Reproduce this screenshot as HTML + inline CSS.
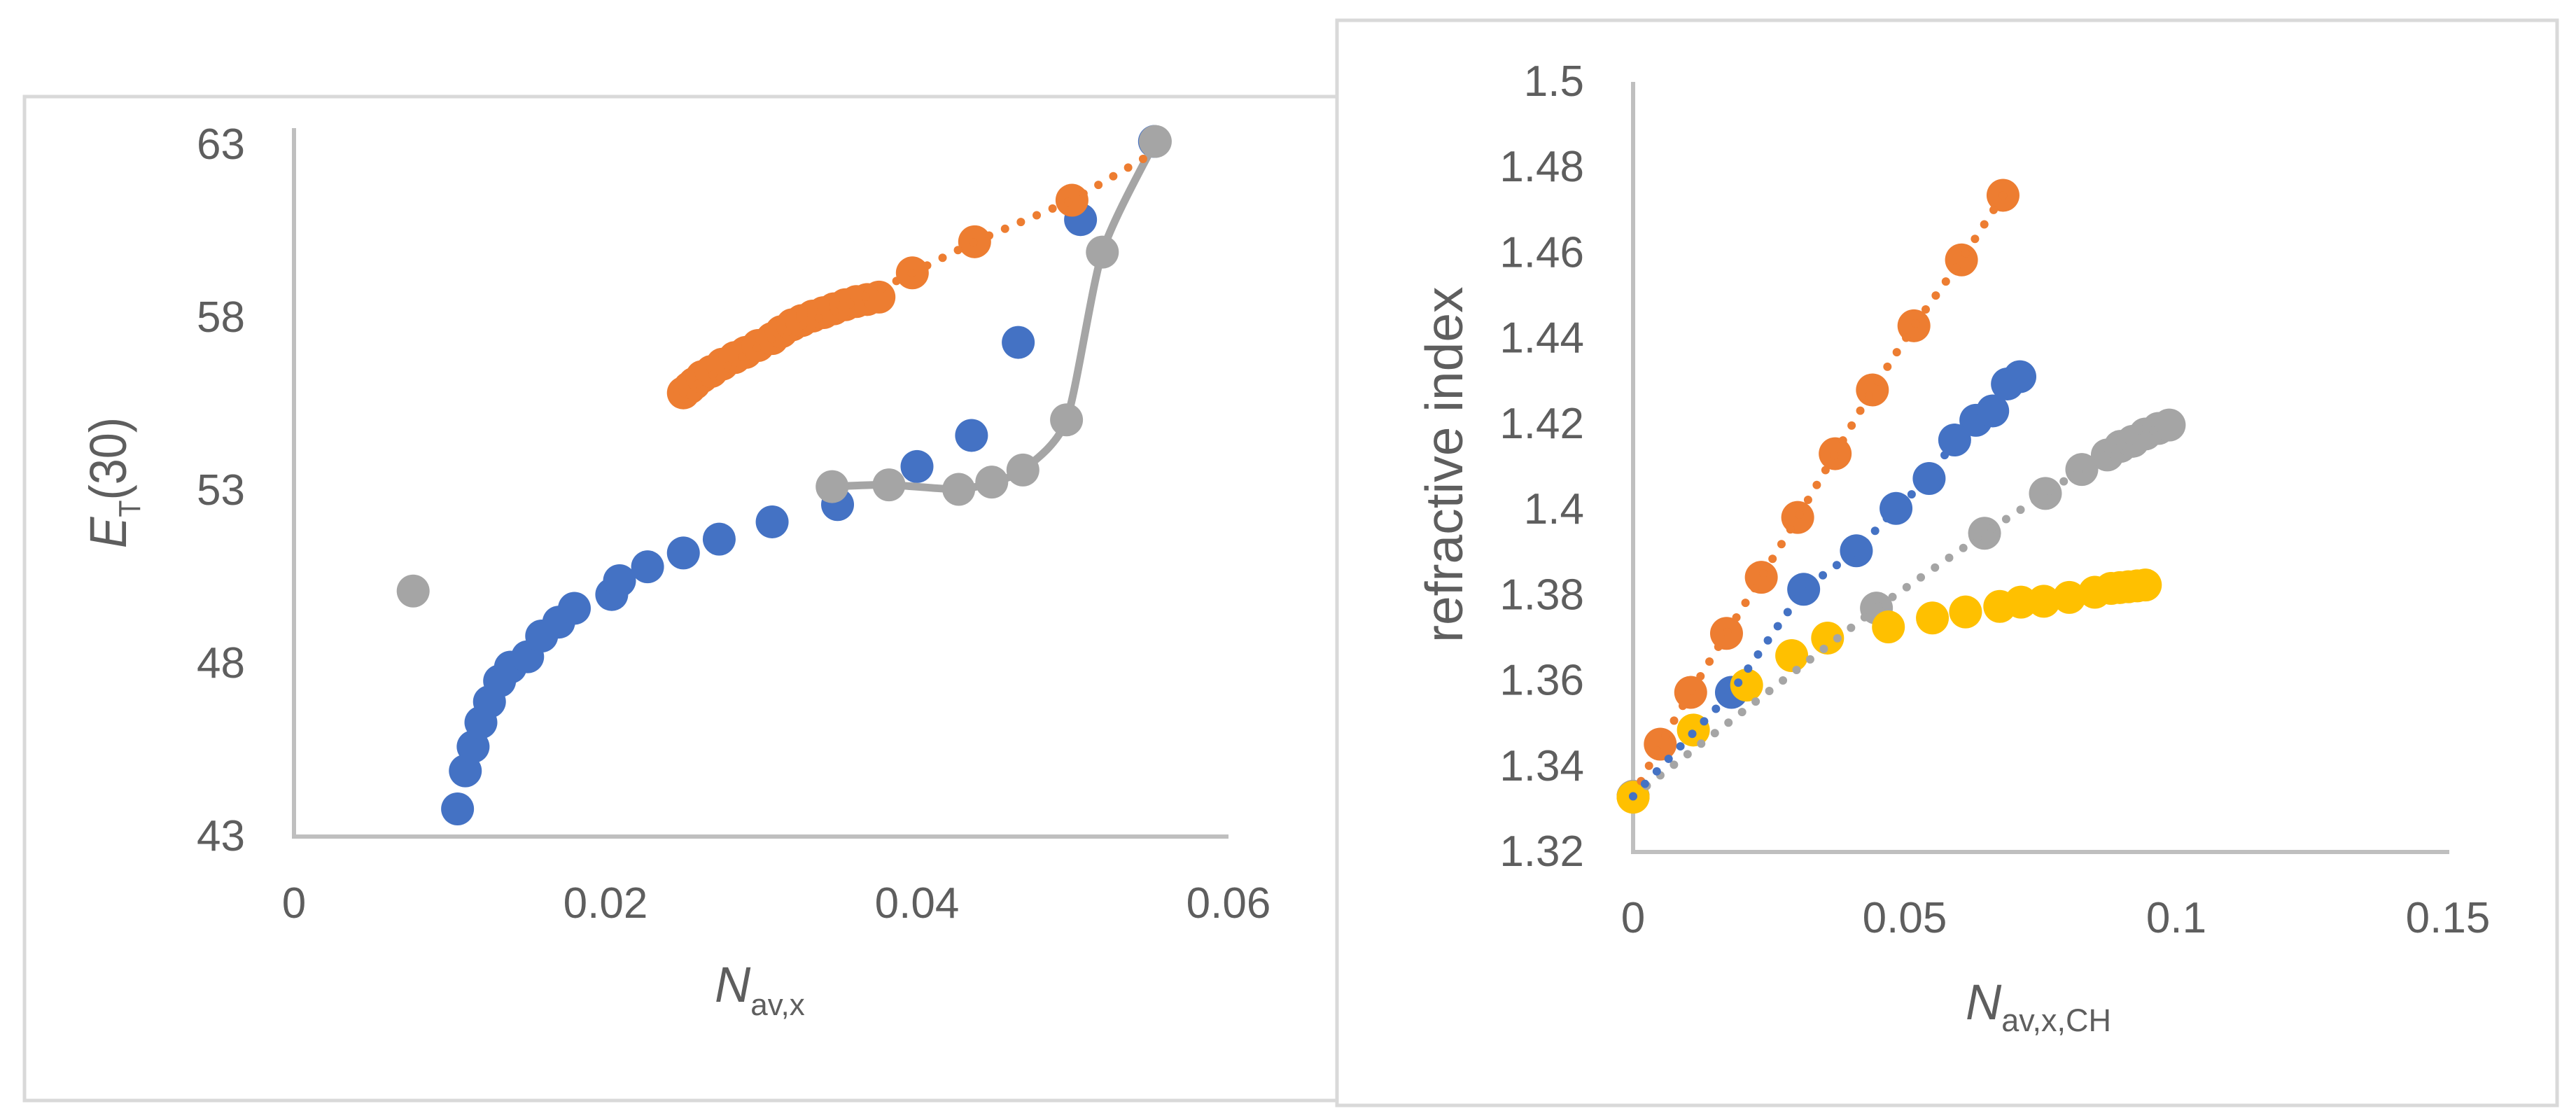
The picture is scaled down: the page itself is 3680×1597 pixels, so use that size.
<!DOCTYPE html>
<html lang="en">
<head>
<meta charset="utf-8">
<title>ET(30) and refractive index charts</title>
<style>
  html, body { margin: 0; padding: 0; background: #fff; }
  svg { display: block; }
  text { font-family: "Liberation Sans", sans-serif; fill: #5e5e5e; }
</style>
</head>
<body>
<svg id="figure" xmlns="http://www.w3.org/2000/svg" width="3680" height="1597" viewBox="0 0 3680 1597">
  <rect x="0" y="0" width="3680" height="1597" fill="#ffffff"/>
  <g id="left"></g>
  <g id="right"></g>
</svg>
<script>
// ---------- Left chart data ----------
const leftXTicks = ["0", "0.02", "0.04", "0.06"];
const leftXTickValues = [0, 0.02, 0.04, 0.06];
const leftYTicks = [43, 48, 53, 58, 63];

const leftBlueX = [0.0105, 0.011, 0.0115, 0.012, 0.01255, 0.0132, 0.0139, 0.015, 0.0159, 0.017, 0.018, 0.0204, 0.0209, 0.0227, 0.025, 0.0273, 0.0307, 0.0349, 0.04, 0.0435, 0.0465, 0.0505, 0.05525];
const leftBlueY = [43.8, 44.9, 45.6, 46.3, 46.9, 47.5, 47.9, 48.2, 48.8, 49.2, 49.6, 50.0, 50.4, 50.8, 51.2, 51.6, 52.1, 52.6, 53.7, 54.6, 57.29, 60.84, 63.1];

const leftOrangeX = [0.025, 0.0254, 0.0257, 0.0262, 0.0268, 0.0275, 0.0283, 0.029, 0.0298, 0.0307, 0.0313, 0.032, 0.0326, 0.0333, 0.034, 0.03466, 0.0354, 0.0361, 0.0368, 0.03756, 0.0397, 0.0437, 0.04995];
const leftOrangeY = [55.83, 55.98, 56.1, 56.3, 56.45, 56.66, 56.85, 57.0, 57.2, 57.4, 57.6, 57.8, 57.92, 58.05, 58.15, 58.26, 58.38, 58.47, 58.53, 58.6, 59.3, 60.2, 61.4];
const leftOrangeTrendX = [0.025, 0.0307, 0.0361, 0.0397, 0.0437, 0.04995, 0.0553];
const leftOrangeTrendY = [55.83, 57.4, 58.47, 59.3, 60.2, 61.4, 62.8];

const leftGrayX = [0.03455, 0.0382, 0.04268, 0.0448, 0.0468, 0.0496, 0.0519, 0.0553];
const leftGrayY = [53.12, 53.17, 53.04, 53.25, 53.6, 55.05, 59.9, 63.1];
const leftGrayLoneX = [0.00765];
const leftGrayLoneY = [50.1];

// ---------- Right chart data ----------
const rightXTicks = ["0", "0.05", "0.1", "0.15"];
const rightXTickValues = [0, 0.05, 0.1, 0.15];
const rightYTicks = ["1.32", "1.34", "1.36", "1.38", "1.4", "1.42", "1.44", "1.46", "1.48", "1.5"];

const rightBlueX = [0, 0.0181, 0.0314, 0.0411, 0.0484, 0.0545, 0.0592, 0.0631, 0.0662, 0.0689, 0.0712];
const rightBlueY = [1.333, 1.3573, 1.3814, 1.3904, 1.4003, 1.4073, 1.4163, 1.4209, 1.4231, 1.4294, 1.4311];

const rightOrangeX = [0, 0.005, 0.0106, 0.0172, 0.0236, 0.0303, 0.0372, 0.04405, 0.0517, 0.06045, 0.0681];
const rightOrangeY = [1.333, 1.3452, 1.3573, 1.3711, 1.3842, 1.3982, 1.4131, 1.428, 1.443, 1.4584, 1.4735];

const rightGrayX = [0, 0.0448, 0.0647, 0.0759, 0.0826, 0.0873, 0.0897, 0.092, 0.0943, 0.0967, 0.0987];
const rightGrayY = [1.333, 1.377, 1.3945, 1.4038, 1.4094, 1.4128, 1.4148, 1.416, 1.4177, 1.419, 1.4198];

const rightYellowX = [0, 0.0111, 0.0209, 0.0292, 0.0358, 0.047, 0.0551, 0.0612, 0.0675, 0.0714, 0.0756, 0.0803, 0.085, 0.088, 0.0896, 0.0912, 0.0928, 0.0943];
const rightYellowY = [1.3328, 1.3485, 1.359, 1.3659, 1.37, 1.3726, 1.3747, 1.3761, 1.3774, 1.3784, 1.3786, 1.3795, 1.3807, 1.3816, 1.3818, 1.382, 1.3822, 1.3824];

// ---------- Axis functions ----------
const xL = v => 420 + v * 22250;
const yL = v => 1195 - (v - 43) * 49.4;
const xR = v => 2333 + v * 7760;
const yR = v => 1217 - (v - 1.32) * 6111;

const NS = "http://www.w3.org/2000/svg";
const BLUE = "#4472C4", ORANGE = "#ED7D31", GRAY = "#A5A5A5", YELLOW = "#FFC000";
const AXIS = "#BFBFBF", BORDER = "#D9D9D9";
const R = 23.5;

function make(parent, tag, attrs) {
  const el = document.createElementNS(NS, tag);
  for (const k in attrs) el.setAttribute(k, attrs[k]);
  parent.appendChild(el);
  return el;
}
function markers(parent, name, xs, ys, fx, fy, color) {
  const g = make(parent, "g", { fill: color });
  
  
  xs.forEach((v, i) => {
    const c = make(g, "circle", { cx: fx(v), cy: fy(ys[i]), r: R });
    
    
  });
}
function dotted(parent, name, xs, ys, fx, fy, color) {
  const pts = xs.map((v, i) => fx(v) + "," + fy(ys[i])).join(" ");
  const l = make(parent, "polyline", { points: pts, fill: "none", stroke: color, "stroke-width": 12, "stroke-linecap": "round", "stroke-linejoin": "round", "stroke-dasharray": "0 24.6" });
  
  
}
function smooth(parent, name, xs, ys, fx, fy, color) {
  const p = xs.map((v, i) => [fx(v), fy(ys[i])]);
  let d = "M" + p[0][0] + " " + p[0][1];
  for (let i = 0; i < p.length - 1; i++) {
    const a = p[Math.max(0, i - 1)], b = p[i], c = p[i + 1], e = p[Math.min(p.length - 1, i + 2)];
    const k = 0.12;
    d += " C" + (b[0] + (c[0] - a[0]) * k) + " " + (b[1] + (c[1] - a[1]) * k) + " " +
         (c[0] - (e[0] - b[0]) * k) + " " + (c[1] - (e[1] - b[1]) * k) + " " + c[0] + " " + c[1];
  }
  const l = make(parent, "path", { d: d, fill: "none", stroke: color, "stroke-width": 11, "stroke-linecap": "round", "stroke-linejoin": "round" });
  
  
}
function label(parent, name, str, x, y, anchor) {
  const t = make(parent, "text", { x: x, y: y, "font-size": 62, "text-anchor": anchor });
  t.textContent = str;
  
  
}
function axisLine(parent, name, x1, y1, x2, y2) {
  const l = make(parent, "line", { x1: x1, y1: y1, x2: x2, y2: y2, stroke: AXIS, "stroke-width": 6 });
  
  
}
function panel(parent, name, x, y, w, h) {
  const r = make(parent, "rect", { x: x, y: y, width: w, height: h, fill: "#fff", stroke: BORDER, "stroke-width": 5 });
  
  
}
function span(parent, str, attrs) {
  const s = make(parent, "tspan", attrs);
  s.textContent = str;
  return s;
}

// ---------- Left chart ----------
const L = document.getElementById("left");
panel(L, "left-chart-frame", 35, 138, 1890, 1434);
axisLine(L, "left-y-axis", xL(0), 183, xL(0), yL(43) + 3);
axisLine(L, "left-x-axis", xL(0) - 3, yL(43), xL(0.06), yL(43));
leftYTicks.forEach(v => label(L, "left-y-tick-label", String(v), 350, yL(v) + 20, "end"));
leftXTicks.forEach((s, i) => label(L, "left-x-tick-label", s, xL(leftXTickValues[i]), 1311, "middle"));

const ltitle = make(L, "text", { transform: "translate(180 783) rotate(-90) scale(0.9 1)", "font-size": 74 });


span(ltitle, "E", { "font-style": "italic" });
span(ltitle, "T", { "font-size": 44, dy: 20 });
span(ltitle, "(30)", { dy: -20 });

const lxt = make(L, "text", { x: 1021, y: 1431, "font-size": 71 });


span(lxt, "N", { "font-style": "italic" });
span(lxt, "av,x", { "font-size": 44, dy: 19 });

markers(L, "series-blue", leftBlueX, leftBlueY, xL, yL, BLUE);
markers(L, "series-orange", leftOrangeX, leftOrangeY, xL, yL, ORANGE);
smooth(L, "series-gray-line", leftGrayX, leftGrayY, xL, yL, GRAY);
markers(L, "series-gray", leftGrayX, leftGrayY, xL, yL, GRAY);
markers(L, "series-gray-outlier", leftGrayLoneX, leftGrayLoneY, xL, yL, GRAY);
dotted(L, "orange-trendline", leftOrangeTrendX, leftOrangeTrendY, xL, yL, ORANGE);

// ---------- Right chart ----------
const Rt = document.getElementById("right");
panel(Rt, "right-chart-frame", 1910, 29, 1743, 1550);
axisLine(Rt, "right-y-axis", xR(0), 117, xR(0), yR(1.32) + 3);
axisLine(Rt, "right-x-axis", xR(0) - 3, yR(1.32), 3499, yR(1.32));
rightYTicks.forEach(s => label(Rt, "right-y-tick-label", s, 2263, yR(parseFloat(s)) + 20, "end"));
rightXTicks.forEach((s, i) => label(Rt, "right-x-tick-label", s, xR(rightXTickValues[i]), 1332, "middle"));

const rtitle = make(Rt, "text", { transform: "translate(2089 918) rotate(-90)", "font-size": 75 });
rtitle.textContent = "refractive index";



const rxt = make(Rt, "text", { x: 2808, y: 1456, "font-size": 71 });


span(rxt, "N", { "font-style": "italic" });
span(rxt, "av,x,CH", { "font-size": 45, dy: 17 });

markers(Rt, "series-blue", rightBlueX, rightBlueY, xR, yR, BLUE);
markers(Rt, "series-orange", rightOrangeX, rightOrangeY, xR, yR, ORANGE);
markers(Rt, "series-gray", rightGrayX, rightGrayY, xR, yR, GRAY);
markers(Rt, "series-yellow", rightYellowX, rightYellowY, xR, yR, YELLOW);
dotted(Rt, "gray-trendline", rightGrayX, rightGrayY, xR, yR, GRAY);
dotted(Rt, "orange-trendline", rightOrangeX, rightOrangeY, xR, yR, ORANGE);
dotted(Rt, "blue-trendline", rightBlueX, rightBlueY, xR, yR, BLUE);
</script>
</body>
</html>
